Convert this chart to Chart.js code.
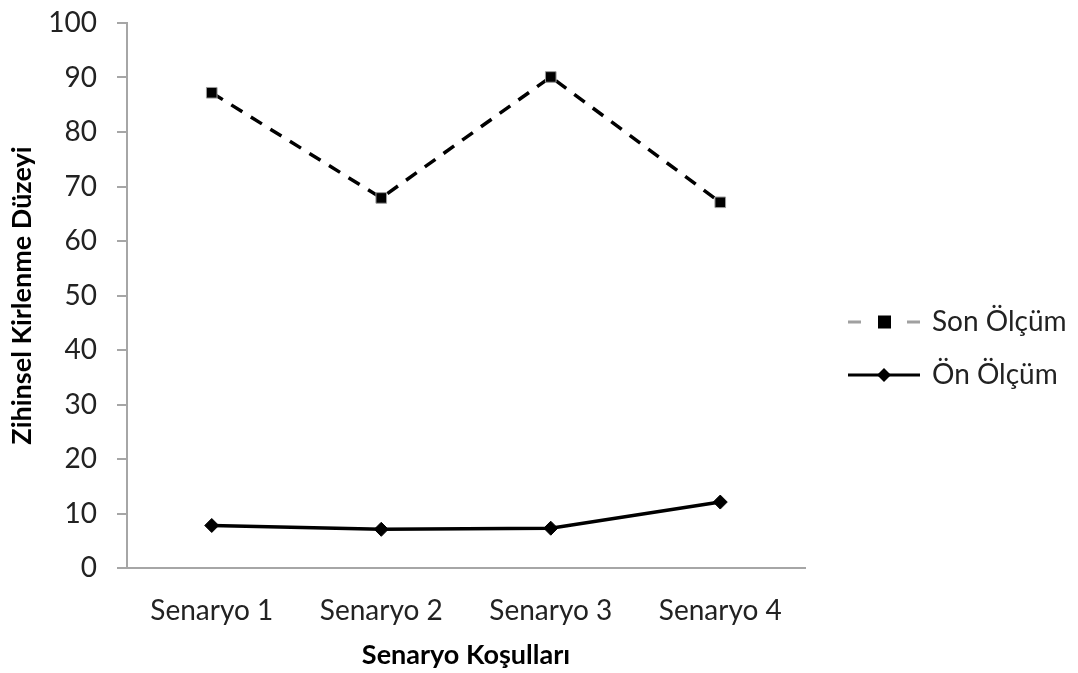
<!DOCTYPE html>
<html>
<head>
<meta charset="utf-8">
<script src="https://cdn.jsdelivr.net/npm/chart.js@4"></script>
<style>
  html, body { margin: 0; padding: 0; background: #fff; }
  #wrap { width: 1078px; height: 673px; }
</style>
</head>
<body>
<div id="wrap"><canvas id="chart" width="1078" height="673"></canvas></div>
<script>
// Data
const categories = ['Senaryo 1', 'Senaryo 2', 'Senaryo 3', 'Senaryo 4'];
const sonOlcum = [87.2, 67.9, 90.1, 67.1];
const onOlcum = [7.8, 7.1, 7.3, 12.1];
const yTicks = [0, 10, 20, 30, 40, 50, 60, 70, 80, 90, 100];

const FONT = 'Lato, "Open Sans", sans-serif';
const AXIS_GREY = '#a6a6a6';

// Legend drawn at the right, with a line sample and marker like Excel
const sideLegend = {
  id: 'sideLegend',
  afterDraw(chart) {
    const ctx = chart.ctx;
    const items = [
      { label: 'Son Ölçüm', y: 322, dashed: true, marker: 'square' },
      { label: 'Ön Ölçüm', y: 375, dashed: false, marker: 'diamond' }
    ];
    ctx.save();
    items.forEach(item => {
      ctx.lineWidth = 3;
      if (item.dashed) {
        ctx.strokeStyle = '#a0a0a0';
        ctx.beginPath();
        ctx.moveTo(848, item.y); ctx.lineTo(861, item.y);
        ctx.moveTo(907, item.y); ctx.lineTo(920, item.y);
        ctx.stroke();
      } else {
        ctx.strokeStyle = '#000';
        ctx.beginPath();
        ctx.moveTo(848, item.y); ctx.lineTo(920, item.y);
        ctx.stroke();
      }
      ctx.fillStyle = '#000';
      if (item.marker === 'square') {
        ctx.fillRect(878, item.y - 6.5, 13, 13);
      } else {
        ctx.beginPath();
        ctx.moveTo(884, item.y - 7); ctx.lineTo(891, item.y);
        ctx.lineTo(884, item.y + 7); ctx.lineTo(877, item.y);
        ctx.closePath(); ctx.fill();
      }
      ctx.font = '28px ' + FONT;
      ctx.textBaseline = 'middle';
      ctx.textAlign = 'left';
      ctx.fillStyle = '#222';
      ctx.fillText(item.label, 932, item.y);
    });
    ctx.restore();
  }
};

new Chart(document.getElementById('chart'), {
  type: 'line',
  data: {
    labels: categories,
    datasets: [
      {
        label: 'Son Ölçüm',
        data: sonOlcum,
        borderColor: '#000',
        borderWidth: 3.5,
        borderDash: [13, 10],
        pointStyle: 'rect',
        pointRadius: 7.5,
        pointBackgroundColor: '#000',
        pointBorderColor: '#9a9a9a',
        pointBorderWidth: 1,
        tension: 0
      },
      {
        label: 'Ön Ölçüm',
        data: onOlcum,
        borderColor: '#000',
        borderWidth: 3.5,
        pointStyle: 'rectRot',
        pointRadius: 7,
        pointBackgroundColor: '#000',
        pointBorderColor: '#000',
        pointBorderWidth: 1,
        tension: 0
      }
    ]
  },
  options: {
    responsive: false,
    animation: false,
    devicePixelRatio: 1,
    layout: { padding: { top: 23, right: 273, left: 0, bottom: 0 } },
    plugins: {
      legend: { display: false },
      tooltip: { enabled: false }
    },
    scales: {
      x: {
        offset: true,
        grid: { display: false },
        border: { display: true, color: AXIS_GREY, width: 2 },
        ticks: {
          padding: 18,
          color: '#222',
          font: { family: FONT, size: 28 }
        },
        title: {
          display: true,
          text: 'Senaryo Koşulları',
          color: '#000',
          padding: { top: 8, bottom: 2 },
          font: { family: FONT, size: 27, weight: 'bold' }
        },
        afterFit(scale) { scale.height = 105; }
      },
      y: {
        min: 0,
        max: 100,
        afterBuildTicks(scale) { scale.ticks = yTicks.map(v => ({ value: v })); },
        grid: {
          display: true,
          drawOnChartArea: false,
          drawTicks: true,
          tickLength: 10,
          color: AXIS_GREY,
          lineWidth: 2
        },
        border: { display: true, color: AXIS_GREY, width: 2 },
        ticks: {
          padding: 20,
          color: '#222',
          font: { family: FONT, size: 28 }
        },
        title: {
          display: true,
          text: 'Zihinsel Kirlenme Düzeyi',
          color: '#000',
          padding: { top: 6, bottom: 0 },
          font: { family: FONT, size: 27, weight: 'bold' }
        },
        afterFit(scale) {
          scale.width = 127;
          scale.paddingTop = 0;
          scale.paddingBottom = 0;
        }
      }
    }
  },
  plugins: [sideLegend]
});
</script>
</body>
</html>
